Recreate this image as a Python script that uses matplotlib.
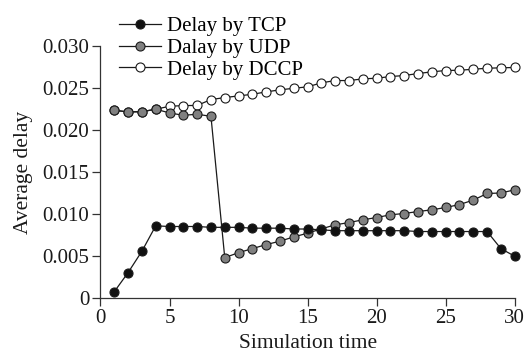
import matplotlib
matplotlib.use("Agg")
import matplotlib.pyplot as plt

plt.rcParams['font.family'] = ['Liberation Serif', 'DejaVu Serif']

x = list(range(1, 31))
tcp = [0.00072, 0.0030, 0.00555, 0.00858, 0.0085, 0.0085, 0.0085, 0.0084, 0.0084, 0.0084,
       0.0083, 0.0083, 0.0083, 0.0082, 0.0082, 0.0081, 0.0080, 0.0080, 0.0080, 0.0080,
       0.0080, 0.0080, 0.0079, 0.0079, 0.0079, 0.0079, 0.0079, 0.0079, 0.00586, 0.00495]
udp = [0.02237, 0.02218, 0.0222, 0.0225, 0.02206, 0.02177, 0.0219, 0.02165, 0.00478, 0.00538,
       0.00586, 0.00634, 0.00675, 0.00726, 0.0077, 0.00822, 0.0087, 0.00897, 0.0093, 0.00957,
       0.0099, 0.01005, 0.01029, 0.01049, 0.01077, 0.01112, 0.01165, 0.01244, 0.0125, 0.01288]
dccp = [0.02237, 0.02218, 0.0222, 0.0225, 0.02285, 0.02293, 0.02295, 0.02365, 0.02389, 0.02409,
        0.02428, 0.02457, 0.02481, 0.0250, 0.02517, 0.02565, 0.02592, 0.02592, 0.02612, 0.0262,
        0.0264, 0.02652, 0.02676, 0.02696, 0.02712, 0.02715, 0.02727, 0.02739, 0.02744, 0.02748]

xticks = [0, 5, 10, 15, 20, 25, 30]
yticks = [0, 0.005, 0.010, 0.015, 0.020, 0.025, 0.030]
yticklabels = ['0', '0.005', '0.010', '0.015', '0.020', '0.025', '0.030']

fig = plt.figure(figsize=(5.25, 3.54), dpi=100)
ax = fig.add_axes([0.1914, 0.159, 0.789, 0.710])

common = dict(color='#1a1a1a', linewidth=0.9, markersize=6.5, markeredgecolor='#1a1a1a',
              markeredgewidth=0.8, marker='o', clip_on=False)
l1, = ax.plot(x, tcp, markerfacecolor='#111111', label='Delay by TCP', zorder=5, **common)
l3, = ax.plot(x, dccp, markerfacecolor='white', label='Delay by DCCP', zorder=3, **common)
l2, = ax.plot(x, udp, markerfacecolor='#808080', label='Dalay by UDP', zorder=4, **common)

ax.set_xlim(0, 30)
ax.set_ylim(0, 0.030)
ax.set_xticks(xticks)
ax.set_yticks(yticks)
ax.set_yticklabels(yticklabels)
for s in ['top', 'right']:
    ax.spines[s].set_visible(False)
for s in ['left', 'bottom']:
    ax.spines[s].set_color('#333333')
    ax.spines[s].set_linewidth(0.9)
ax.tick_params(direction='out', length=6, width=0.9, colors='#333333', labelsize=15,
               labelcolor='#1a1a1a')
ax.tick_params(axis='x', pad=2)
ax.tick_params(axis='y', pad=2)
ax.set_xlabel('Simulation time', fontsize=15.5, color='#1a1a1a', labelpad=4.5)
ax.set_ylabel('Average delay', fontsize=15.5, color='#1a1a1a', labelpad=7)

fig.legend(handles=[l1, l2, l3], loc='upper left', bbox_to_anchor=(0.2267, 0.953),
           frameon=False, fontsize=15, handlelength=2.0, handletextpad=0.3,
           labelspacing=0.1, borderpad=0, borderaxespad=0)

fig.savefig('out.png', dpi=100)
